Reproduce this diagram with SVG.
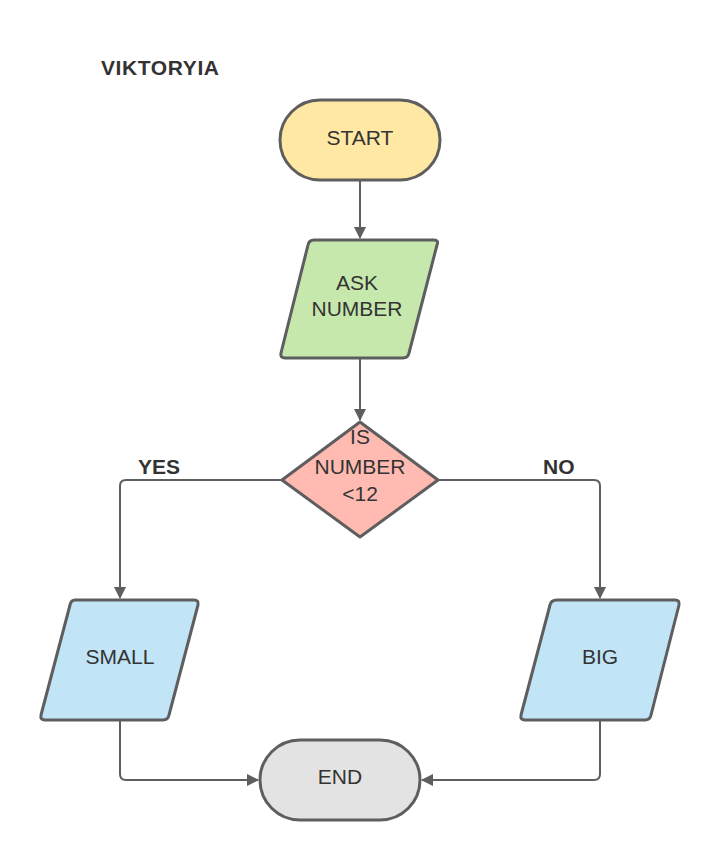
<svg xmlns="http://www.w3.org/2000/svg" width="720" height="860" viewBox="0 0 720 860">
<defs>
<style>
.s{stroke:#5e5e5e;stroke-width:3;stroke-linejoin:round}
.t{font-family:"Liberation Sans",Arial,sans-serif;font-size:21px;fill:#333333;text-anchor:middle}
.b{font-family:"Liberation Sans",Arial,sans-serif;font-size:21px;font-weight:bold;fill:#333333}
.c{fill:none;stroke:#5e5e5e;stroke-width:2}
</style>
<marker id="ah" viewBox="0 0 12 12" refX="11" refY="6" markerWidth="12" markerHeight="12" markerUnits="userSpaceOnUse" orient="auto">
<path d="M0,0 L12,6 L0,12 Z" fill="#5e5e5e"/>
</marker>
</defs>
<rect width="720" height="860" fill="#ffffff"/>
<text class="b" x="101" y="75" textLength="118">VIKTORYIA</text>
<g id="connectors">
<path class="c" d="M360,181 L360,238" marker-end="url(#ah)"/>
<path class="c" d="M360,359 L360,420" marker-end="url(#ah)"/>
<path class="c" d="M282,480 L126,480 Q120,480 120,486 L120,598" marker-end="url(#ah)"/>
<path class="c" d="M438,480 L594,480 Q600,480 600,486 L600,598" marker-end="url(#ah)"/>
<path class="c" d="M120,721 L120,774 Q120,780 126,780 L258,780" marker-end="url(#ah)"/>
<path class="c" d="M600,721 L600,774 Q600,780 594,780 L422,780" marker-end="url(#ah)"/>
</g>
<g id="start">
<rect class="s" x="280" y="100" width="160" height="80" rx="40" fill="#ffe8a3"/>
<text class="t" x="360" y="145">START</text>
</g>
<g id="ask">
<path class="s" d="M314,240 L434,240 Q439,240 437,245 L409,353 Q408,358 403,358 L285,358 Q280,358 281,353 L308,245 Q309,240 314,240 Z" fill="#c7e8ac"/>
<text class="t" x="357" y="290">ASK</text>
<text class="t" x="357" y="316">NUMBER</text>
</g>
<g id="decision">
<path class="s" d="M360,422 L438,480 L360,537 L282,480 Z" fill="#ffbbb1"/>
<text class="t" x="360" y="444">IS</text>
<text class="t" x="360" y="474">NUMBER</text>
<text class="t" x="360" y="501">&lt;12</text>
</g>
<text class="b" x="138" y="474">YES</text>
<text class="b" x="543" y="474">NO</text>
<g id="small">
<path class="s" d="M75,600 L194,600 Q199,600 198,605 L169,715 Q168,720 163,720 L45,720 Q40,720 41,715 L70,605 Q71,600 75,600 Z" fill="#c1e4f7"/>
<text class="t" x="120" y="664">SMALL</text>
</g>
<g id="big">
<path class="s" d="M557,600 L675,600 Q680,600 679,605 L651,715 Q650,720 645,720 L525,720 Q520,720 521,715 L550,605 Q551,600 557,600 Z" fill="#c1e4f7"/>
<text class="t" x="600" y="664">BIG</text>
</g>
<g id="end">
<rect class="s" x="260" y="740" width="160" height="80" rx="40" fill="#e3e3e3"/>
<text class="t" x="340" y="784">END</text>
</g>
</svg>
